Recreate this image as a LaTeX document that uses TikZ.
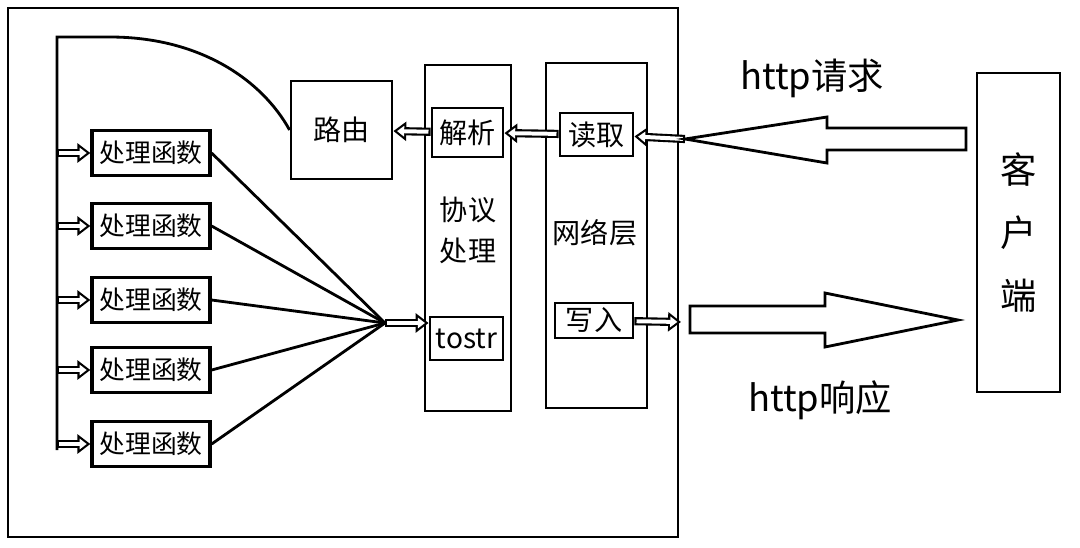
\documentclass[tikz,border=0pt]{standalone}
\usepackage{fontspec}
\setmainfont{Noto Sans CJK SC}
\usetikzlibrary{arrows.meta,positioning}

\begin{document}
\begin{tikzpicture}[x=0.03cm,y=-0.03cm,
  every node/.style={font=\fontsize{24}{28}\selectfont},
  line/.style={line width=2.4pt},
  box/.style={draw,line width=2.4pt,inner sep=0pt,align=center,fill=white},
  handler/.style={box,line width=2.8pt,minimum width=3.54cm,minimum height=1.35cm,
                  font=\fontsize{22}{26}\selectfont},
  hollow/.style={line width=7pt,-{Triangle[length=11pt,width=16pt]},
                 postaction={draw=white,line width=3.4pt,shorten <=1.8pt,shorten >=3.1pt,
                             -{Triangle[length=6.1pt,width=8.9pt]}}},
  bigarrow/.style={line width=2.4pt,line join=miter},
  big/.style={font=\fontsize{31}{54}\selectfont},
]
\useasboundingbox (0,0) rectangle (1080,547);
% server frame
\draw[line] (8,8) rectangle (678,537);

% layers
\node[box,minimum width=2.58cm,minimum height=10.38cm] (proto) at (468,238) {};
\node[box,minimum width=3.03cm,minimum height=10.35cm] (net) at (596.5,235.5) {};
\node[align=center] (prototext) at (468,230) {协议\\[0.25cm]处理};
\node (nettext) at (595,233) {网络层};

% boxes inside layers
\node[box,minimum width=2.13cm,minimum height=1.47cm] (parse) at (467.5,132.5) {解析};
\node[box,minimum width=2.19cm,minimum height=1.29cm] (tostr) at (466.5,338.5) {tostr};
\node[box,minimum width=2.19cm,minimum height=1.29cm] (read) at (596.5,134.5) {读取};
\node[box,minimum width=2.34cm,minimum height=1.05cm] (write) at (594,320.5) {写入};

% router
\node[box,minimum width=3.03cm,minimum height=2.94cm] (route) at (341.5,130) {路由};

% client
\node[box,big,minimum width=2.49cm,minimum height=9.57cm] (client) at (1018.5,232.5) {客\\户\\端};

% dispatch bus and handlers
\coordinate (bustop) at (57,37);
\coordinate (busend) at (57,450);
\coordinate (fan) at (385,323);
\draw[line] (busend) -- (bustop) -- (110,37) .. controls (200,37) and (262,80) .. (route.west);
\foreach \y [count=\i] in {153,226,300,370,444} {
  \node[handler] (h\i) at (151,\y) {处理函数};
  \coordinate (bus\i) at (57,\y);
  \draw[hollow] (bus\i) -- (h\i);
  \draw[line] (h\i.east) -- (fan);
}
\draw[hollow] (fan) -- (fan -| tostr.west);

% inner flow
\draw[hollow] (parse) -- (route);
\draw[hollow] (read) -- (parse);
\coordinate (reqtip) at (685,139);
\coordinate (resptip) at (681,322);
\draw[hollow] (reqtip) -- (read);
\draw[hollow] (write) -- (resptip);

% http request / response
\draw[bigarrow] (reqtip) -- (827,117) -- (827,128) -- (966,128) -- (966,150)
  -- (827,150) -- (827,163) -- cycle;
\draw[bigarrow] (690,306) -- (825,306) -- (825,293) -- (958,320) -- (825,347)
  -- (825,333) -- (690,333) -- cycle;
\node[big] (req) at (812,78) {http请求};
\node[big] (resp) at (820,400) {http响应};
\end{tikzpicture}
\end{document}
